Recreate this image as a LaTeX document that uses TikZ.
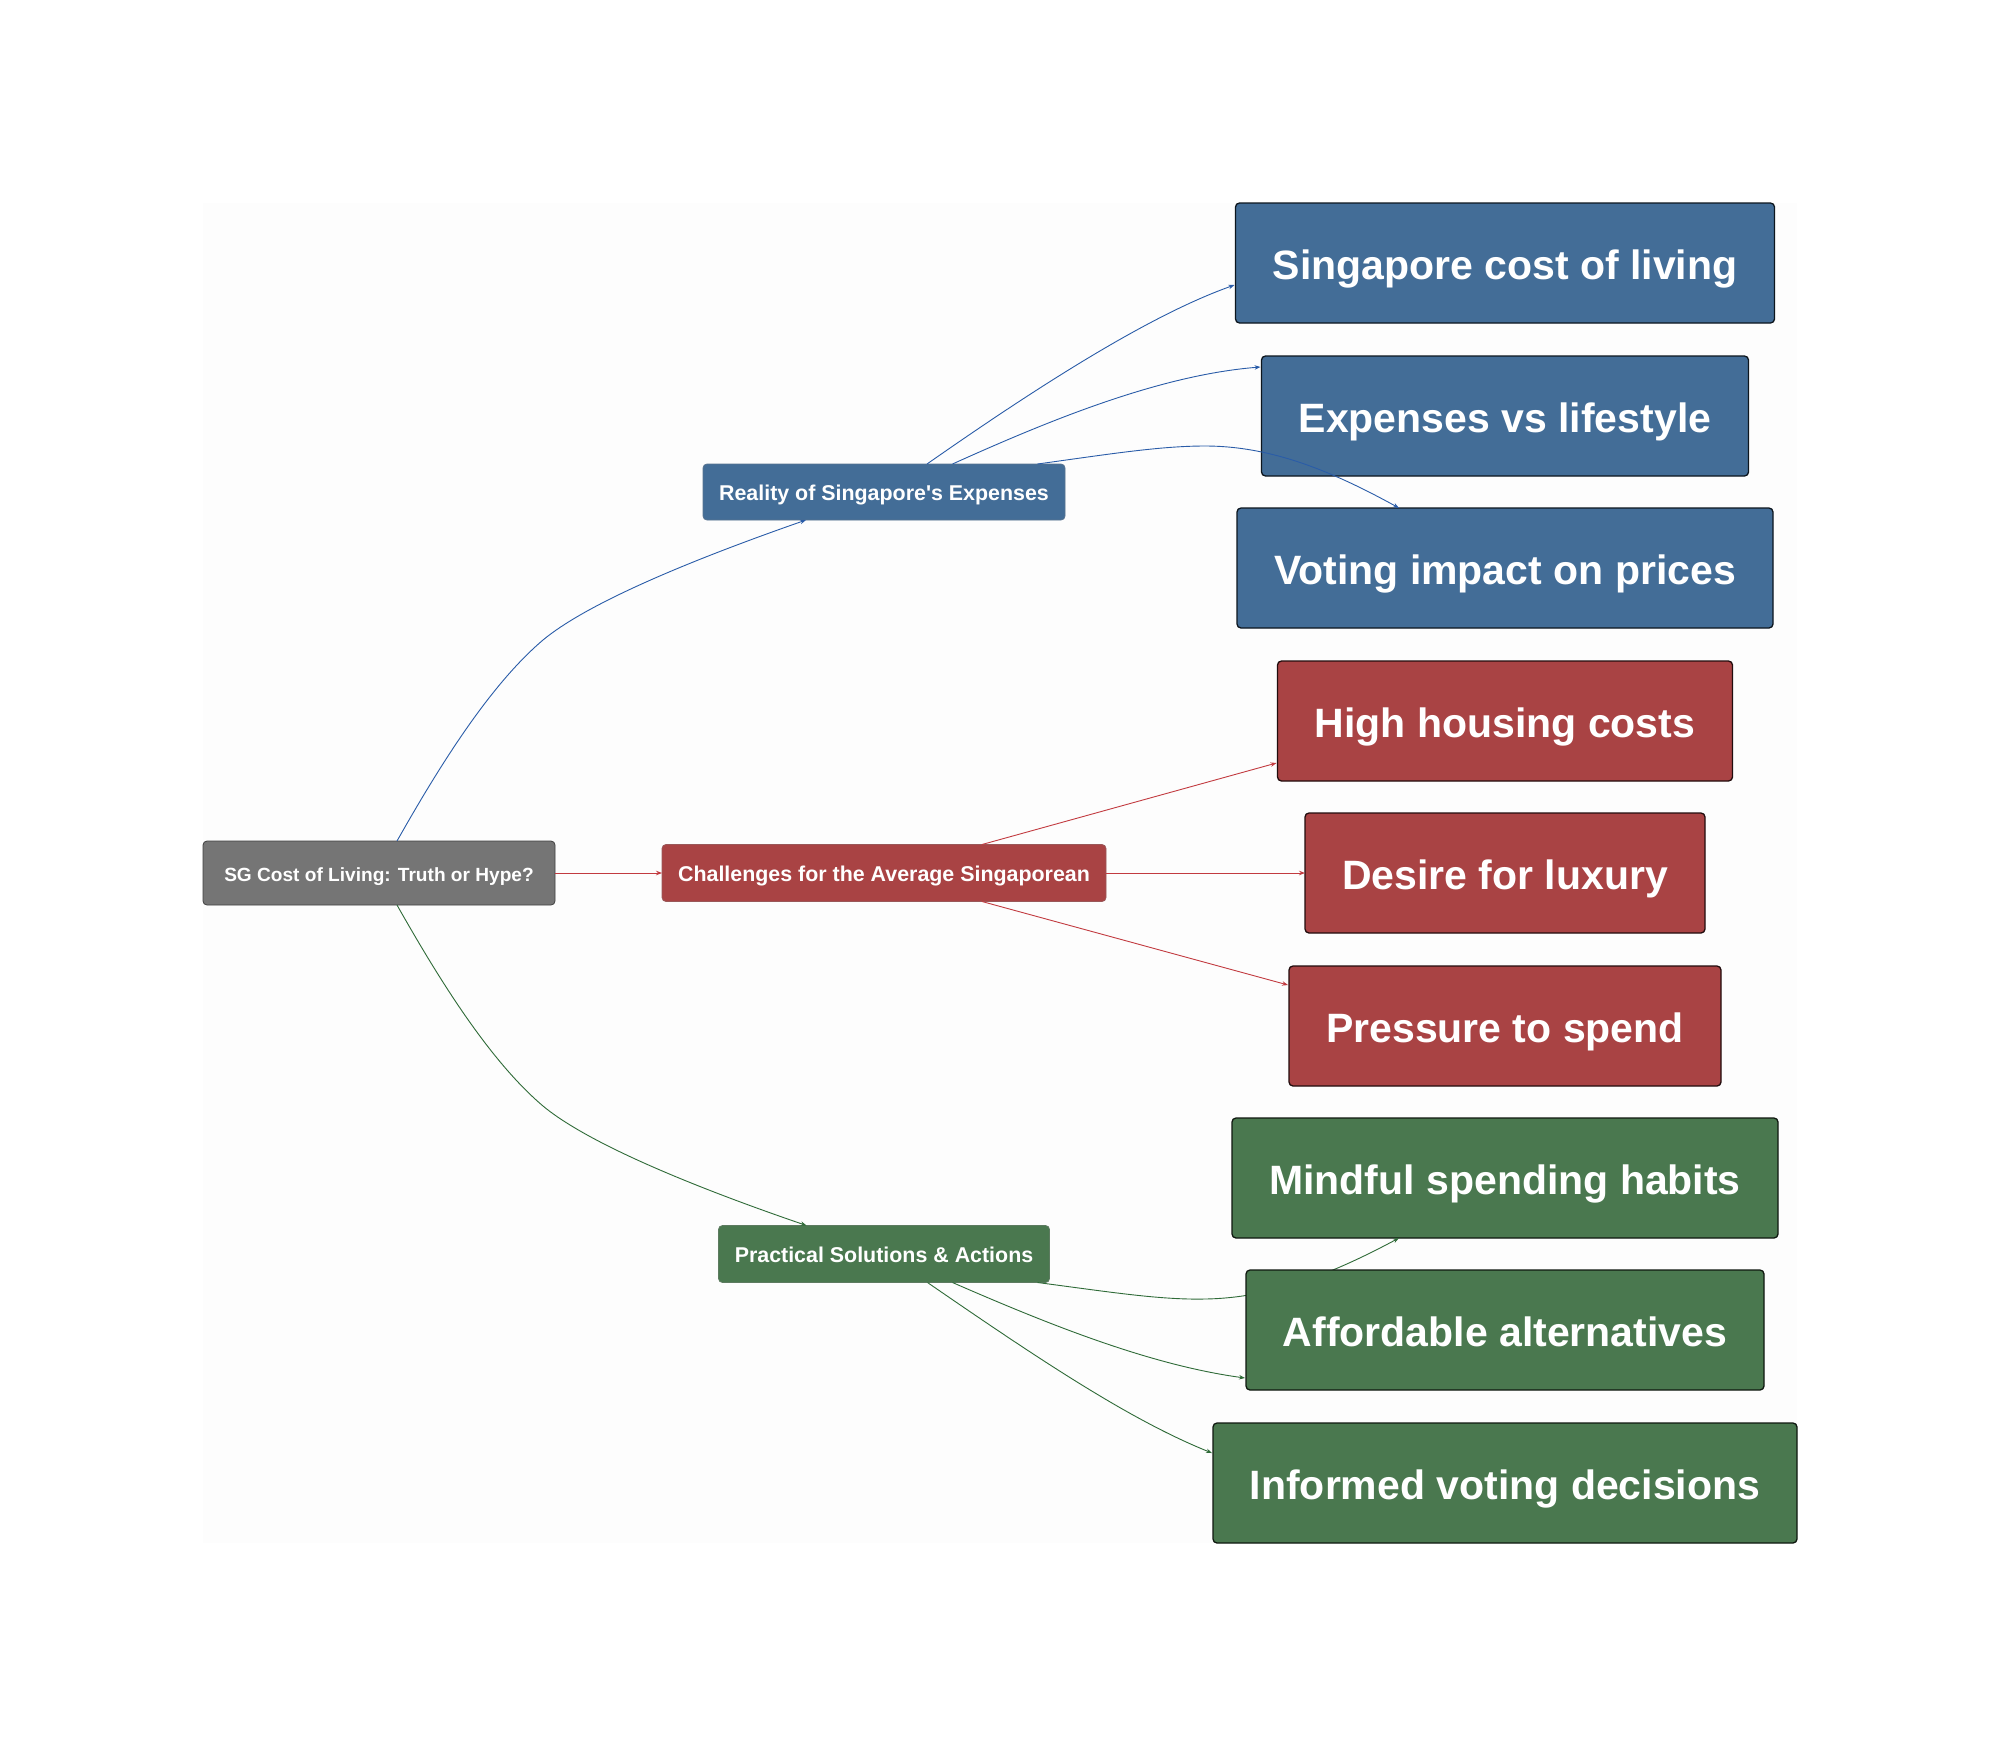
\documentclass[tikz,border=0pt]{standalone}
\usepackage{fontspec}
\setmainfont{Liberation Sans}
\usetikzlibrary{arrows.meta,calc}
\definecolor{cblue}{HTML}{436D97}
\definecolor{cred}{HTML}{A94344}
\definecolor{cgreen}{HTML}{4A784F}
\definecolor{cgrey}{HTML}{757575}
\definecolor{eblue}{HTML}{2A5CA8}
\definecolor{ered}{HTML}{C23B40}
\definecolor{egreen}{HTML}{2F6B38}
\definecolor{bgtone}{HTML}{FDFDFD}
\tikzset{
  x=1pt,y=-1pt,
  box/.style={rounded corners=4pt,inner sep=0pt,outer sep=0pt,text=white},
  rootbox/.style={box,fill=cgrey,draw=black!45!cgrey,line width=0.8pt,font=\fontsize{19.1}{23}\selectfont\bfseries,text height=16pt,text depth=0pt},
  midbox/.style={box,draw=#1!65!gray,fill=#1,line width=0.8pt,font=\fontsize{21.4}{26}\selectfont\bfseries,text height=16.5pt,text depth=0pt},
  leafbox/.style={box,draw=black!80!#1,fill=#1,line width=1.3pt,font=\fontsize{41}{50}\selectfont\bfseries,text height=32pt,text depth=0pt},
  link/.style={draw=#1,line width=0.9pt,-{Stealth[length=6pt,width=4.5pt]}},
}
\begin{document}
\begin{tikzpicture}
\useasboundingbox (0,0) rectangle (2000,1746);
\fill[white] (0,0) rectangle (2000,1746);
\fill[fill=bgtone] (203,203) rectangle (1797,1543);
% nodes
\node[rootbox,minimum width=352pt,minimum height=64pt] (root) at (379,873) {SG Cost of Living: Truth or Hype?};
\node[midbox=cblue,minimum width=362pt,minimum height=56pt] (real) at (884,492) {Reality of Singapore\textquotesingle s Expenses};
\node[midbox=cred,minimum width=444pt,minimum height=57pt] (chal) at (884,873) {Challenges for the Average Singaporean};
\node[midbox=cgreen,minimum width=331pt,minimum height=57pt] (prac) at (884,1254) {Practical Solutions \& Actions};
\node[leafbox=cblue,minimum width=539pt,minimum height=120pt] (l1) at (1505,263) {Singapore cost of living};
\node[leafbox=cblue,minimum width=487pt,minimum height=120pt] (l2) at (1505,416) {Expenses vs lifestyle};
\node[leafbox=cblue,minimum width=536pt,minimum height=120pt] (l3) at (1505,568) {Voting impact on prices};
\node[leafbox=cred,minimum width=455pt,minimum height=120pt] (l4) at (1505,721) {High housing costs};
\node[leafbox=cred,minimum width=400pt,minimum height=120pt] (l5) at (1505,873) {Desire for luxury};
\node[leafbox=cred,minimum width=432pt,minimum height=120pt] (l6) at (1505,1026) {Pressure to spend};
\node[leafbox=cgreen,minimum width=546pt,minimum height=120pt] (l7) at (1505,1178) {Mindful spending habits};
\node[leafbox=cgreen,minimum width=584pt,minimum height=120pt] (l9) at (1505,1483) {Informed voting decisions};
% blue links
\draw[link=eblue] ($(root.north west)+(194,0)$) .. controls (440,765) and (490,685) .. (543,640) .. controls (590,601) and (700,557) .. ($(real.south west)+(103,0)$);
\draw[link=eblue] ($(real.north west)+(224,0)$) .. controls (1040,385) and (1150,315) .. ($(l1.north west)+(-1,82)$);
\draw[link=eblue] ($(real.north west)+(249.5,0)$) .. controls (1050,420) and (1160,375) .. ($(l2.north west)+(-1,11)$);
\draw[link=eblue] ($(real.north west)+(334.5,0)$) .. controls (1110,454) and (1160,446) .. (1205,446) .. controls (1270,446) and (1330,470) .. ($(l3.north west)+(162,0)$);
% red links
\draw[link=ered] (root.east) -- (chal.west);
\draw[link=ered] ($(chal.north west)+(320,0)$) -- ($(l4.north west)+(-1,102)$);
\draw[link=ered] (chal.east) -- (l5.west);
\draw[link=ered] ($(chal.south west)+(320,0)$) -- ($(l6.north west)+(-1,19)$);
% green links
\draw[link=egreen] ($(root.south west)+(194,0)$) .. controls (440,981) and (490,1061) .. (543,1106) .. controls (590,1145) and (700,1189) .. ($(prac.north west)+(88,0)$);
\draw[link=egreen] ($(prac.south west)+(319,0)$) .. controls (1110,1292) and (1160,1300) .. (1205,1299) .. controls (1270,1298) and (1330,1275) .. ($(l7.south west)+(167,0)$);
\node[leafbox=cgreen,minimum width=518pt,minimum height=120pt] (l8) at (1505,1330) {Affordable alternatives};
\draw[link=egreen] ($(prac.south west)+(234,0)$) .. controls (1050,1325) and (1150,1365) .. ($(l8.north west)+(-1,108)$);
\draw[link=egreen] ($(prac.south west)+(209,0)$) .. controls (1040,1360) and (1130,1420) .. ($(l9.north west)+(-1,30)$);
\end{tikzpicture}
\end{document}
